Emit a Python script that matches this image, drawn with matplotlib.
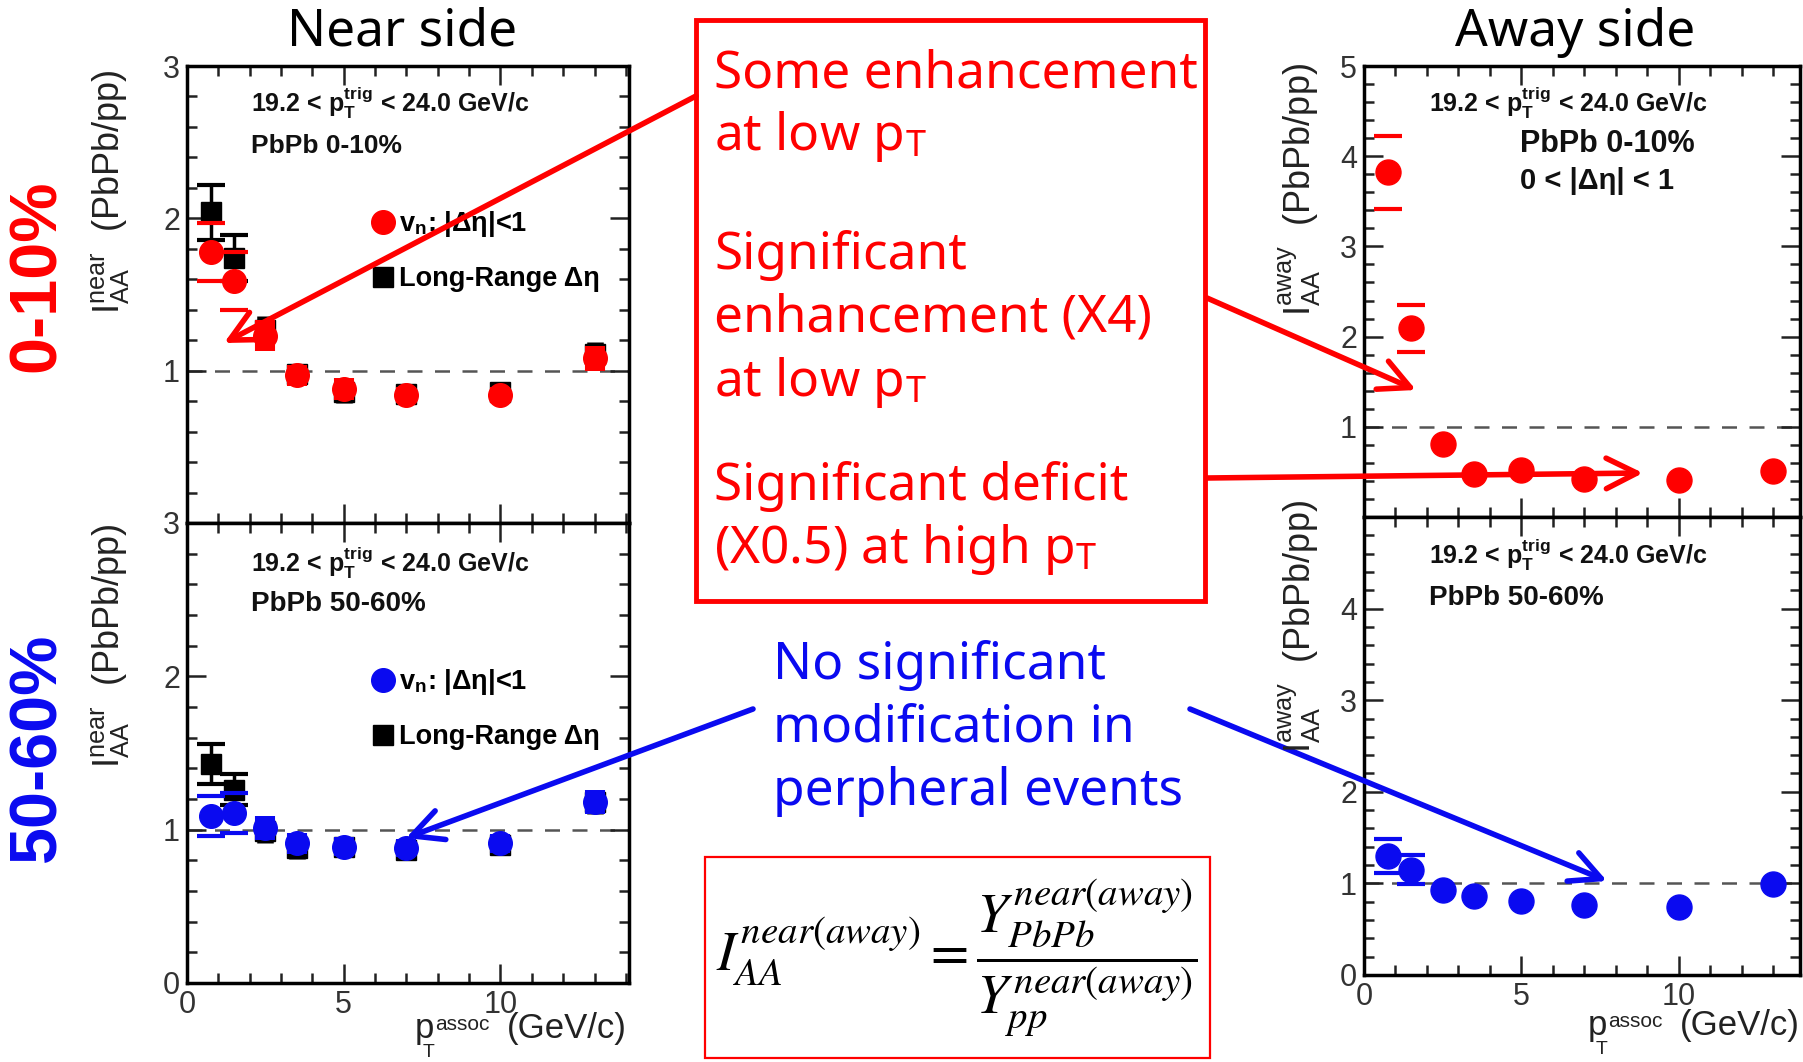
import matplotlib
matplotlib.use("Agg")
import matplotlib.pyplot as plt
from matplotlib.patches import Rectangle, FancyArrowPatch
from matplotlib.lines import Line2D
from matplotlib.ticker import MultipleLocator

plt.rcParams['font.family'] = ['Liberation Sans', 'DejaVu Sans']
plt.rcParams['mathtext.fontset'] = 'stix'

W, H = 1803, 1062

# associated pT bin centres (GeV/c)
pt = [0.75, 1.5, 2.5, 3.5, 5.0, 7.0, 10.0, 13.0]

# near side, PbPb 0-10%
near_c_vn = [1.78, 1.59, 1.23, 0.97, 0.88, 0.84, 0.84, 1.08]
near_c_vn_err = [0.19, 0.19, 0.10, 0.07, 0.07, 0.05, 0.05, 0.08]
near_c_lr = [2.04, 1.74, 1.27, 0.98, 0.86, 0.85, 0.86, 1.11]
near_c_lr_err = [0.18, 0.15, 0.09, 0.06, 0.07, 0.05, 0.05, 0.08]

# near side, PbPb 50-60%
near_p_vn = [1.09, 1.11, 1.01, 0.91, 0.89, 0.88, 0.91, 1.18]
near_p_vn_err = [0.13, 0.13, 0.08, 0.07, 0.06, 0.06, 0.06, 0.08]
near_p_lr = [1.43, 1.26, 0.99, 0.88, 0.89, 0.87, 0.90, 1.18]
near_p_lr_err = [0.13, 0.10, 0.08, 0.07, 0.06, 0.06, 0.06, 0.08]

# away side
away_c = [3.82, 2.09, 0.81, 0.48, 0.52, 0.42, 0.41, 0.51]
away_c_err = [0.40, 0.26, 0.0, 0.0, 0.0, 0.0, 0.0, 0.0]
away_p = [1.30, 1.15, 0.93, 0.86, 0.81, 0.76, 0.74, 0.99]
away_p_err = [0.19, 0.16, 0.0, 0.0, 0.0, 0.0, 0.0, 0.0]

RED = '#ff0000'
BLUE = '#0a0af0'


def box(l, t, r, b):
    # pixel box (from top-left) -> figure fraction rect
    return [l / W, 1 - b / H, (r - l) / W, (b - t) / H]


def fp(x, y):
    return (x / W, 1 - y / H)


def frame(ax, ymax, ylabels, xmax, show_x):
    ax.set_xlim(0, xmax)
    ax.set_ylim(0, ymax)
    ax.set_yticks(range(ymax + 1), ylabels)
    ax.xaxis.set_major_locator(MultipleLocator(5))
    ax.xaxis.set_minor_locator(MultipleLocator(1))
    ax.yaxis.set_minor_locator(MultipleLocator(0.2))
    ax.tick_params(which='both', direction='in', top=True, right=True,
                   width=1.8, color='#222')
    ax.tick_params(which='major', length=14, labelsize=22, labelcolor='#333',
                   pad=5, labelbottom=show_x)
    ax.tick_params(which='minor', length=7)
    for s in ax.spines.values():
        s.set_linewidth(2.5)
    ax.axhline(1, color='#555', lw=1.8, ls=(0, (6, 5)), zorder=1)


def points(ax, y, err, color, marker, ms, line, z):
    # two lowest bins: bracket-style errors, the rest: filled boxes
    ax.errorbar(pt[:2], y[:2], yerr=err[:2], fmt='none', ecolor=color,
                elinewidth=2.5 if line else 0, capsize=10, capthick=3, zorder=z)
    ax.errorbar(pt[2:], y[2:], yerr=err[2:], fmt='none', ecolor=color,
                elinewidth=ms * 0.85, capsize=0, zorder=z)
    ax.plot(pt, y, ls='none', marker=marker, ms=ms, color=color, zorder=z)


def pt_title(right, base):
    # "p_T^assoc (GeV/c)" built from pieces so the scripts sit low like ROOT
    kw = dict(color='#222', va='baseline')
    fig.text(*fp(right, base), '(GeV/c)', fontsize=25, ha='right', **kw)
    fig.text(*fp(right - 212, base), 'p', fontsize=25, **kw)
    fig.text(*fp(right - 192, base - 8), 'assoc', fontsize=15, **kw)
    fig.text(*fp(right - 204, base + 19), 'T', fontsize=14, **kw)


fig = plt.figure(figsize=(W / 100, H / 100), dpi=100)

ax1 = fig.add_axes(box(187, 66, 629, 523))
ax2 = fig.add_axes(box(187, 523, 629, 983))
ax3 = fig.add_axes(box(1364, 66, 1800, 517))
ax4 = fig.add_axes(box(1364, 517, 1800, 975))

frame(ax1, 3, ['', '1', '2', '3'], 14.1, False)
frame(ax2, 3, ['0', '1', '2', '3'], 14.1, True)
frame(ax3, 5, ['', '1', '2', '3', '4', '5'], 13.85, False)
frame(ax4, 5, ['0', '1', '2', '3', '4', ''], 13.85, True)

points(ax1, near_c_lr, near_c_lr_err, 'black', 's', 14, True, 3)
points(ax1, near_c_vn, near_c_vn_err, RED, 'o', 17, False, 4)
points(ax2, near_p_lr, near_p_lr_err, 'black', 's', 14, True, 3)
points(ax2, near_p_vn, near_p_vn_err, BLUE, 'o', 17, False, 4)
points(ax3, away_c, away_c_err, RED, 'o', 18, False, 4)
points(ax4, away_p, away_p_err, BLUE, 'o', 18, False, 4)

trig = r'19.2 < p$_\mathregular{T}^\mathregular{trig}$ < 24.0 GeV/c'
tkw = dict(fontweight='bold', color='#111', va='center')
fig.text(*fp(251, 103), trig, fontsize=18, **tkw)
fig.text(*fp(251, 146), 'PbPb 0-10%', fontsize=19, **tkw)
fig.text(*fp(251, 563), trig, fontsize=18, **tkw)
fig.text(*fp(251, 604), 'PbPb 50-60%', fontsize=20, **tkw)
fig.text(*fp(1429, 103), trig, fontsize=18, **tkw)
fig.text(*fp(1520, 144), 'PbPb 0-10%', fontsize=22, **tkw)
fig.text(*fp(1520, 181), '0 < |Δη| < 1', fontsize=21, **tkw)
fig.text(*fp(1429, 555), trig, fontsize=18, **tkw)
fig.text(*fp(1429, 598), 'PbPb 50-60%', fontsize=20, **tkw)

# legends on the near-side panels
for ax, col in [(ax1, RED), (ax2, BLUE)]:
    handles = [Line2D([], [], ls='none', marker='o', ms=17, color=col),
               Line2D([], [], ls='none', marker='s', ms=14, color='black')]
    ax.legend(handles, [r'v$_\mathregular{n}$: |Δη|<1', 'Long-Range Δη'],
              loc='upper left', bbox_to_anchor=(0.40, 0.71), frameon=False,
              prop={'size': 19.5, 'weight': 'bold'}, handlelength=0.6,
              handletextpad=0.3, labelspacing=1.0, borderaxespad=0)

# axis titles
ykw = dict(rotation=90, ha='center', va='center', fontsize=26, color='#222')
fig.text(*fp(110, 192), r'$\mathregular{I^{near}_{AA}}$  (PbPb/pp)', **ykw)
fig.text(*fp(110, 646), r'$\mathregular{I^{near}_{AA}}$  (PbPb/pp)', **ykw)
fig.text(*fp(1300, 190), r'$\mathregular{I^{away}_{AA}}$  (PbPb/pp)', **ykw)
fig.text(*fp(1300, 627), r'$\mathregular{I^{away}_{AA}}$  (PbPb/pp)', **ykw)
pt_title(627, 1038)
pt_title(1800, 1035)

fig.text(*fp(402, 32), 'Near side', fontsize=37, family='Noto Sans',
         ha='center', va='center')
fig.text(*fp(1575, 32), 'Away side', fontsize=37, family='Noto Sans',
         ha='center', va='center')

# centrality labels
fig.text(*fp(38, 276), '0-10%', rotation=90, fontsize=48, fontweight='bold',
         color=RED, ha='center', va='center')
fig.text(*fp(38, 747), '50-60%', rotation=90, fontsize=48, fontweight='bold',
         color=BLUE, ha='center', va='center')

# annotation boxes
fig.add_artist(Rectangle(fp(696, 601), 509 / W, 581 / H, fill=False,
                         ec=RED, lw=3.5, transform=fig.transFigure))
fig.add_artist(Rectangle(fp(705, 1058), 505 / W, 201 / H, fill=False,
                         ec=RED, lw=1.6, transform=fig.transFigure))

red_lines = ['Some enhancement', r'at low p$_\mathregular{T}$', 'Significant',
             'enhancement (X4)', r'at low p$_\mathregular{T}$',
             'Significant deficit', r'(X0.5) at high p$_\mathregular{T}$']
red_base = [87, 150, 269, 332, 396, 500, 563]
for s, y in zip(red_lines, red_base):
    fig.text(*fp(714, y), s, fontsize=37, family='Noto Sans', color=RED,
             va='baseline')

blue_lines = ['No significant', 'modification in', 'perpheral events']
blue_base = [679, 742, 805]
for s, y in zip(blue_lines, blue_base):
    fig.text(*fp(773, y), s, fontsize=37, family='Noto Sans', color=BLUE,
             va='baseline')

fig.text(*fp(957, 957),
         r'$I^{near(away)}_{AA} = \dfrac{Y^{near(away)}_{PbPb}}{Y^{near(away)}_{pp}}$',
         fontsize=40, ha='center', va='center')

# arrows
arrows = [((696, 96), (224, 343), RED), ((1207, 298), (1416, 390), RED),
          ((1207, 478), (1643, 473), RED), ((753, 709), (406, 838), BLUE),
          ((1190, 709), (1607, 881), BLUE)]
for a, b, c in arrows:
    fig.add_artist(FancyArrowPatch(fp(*a), fp(*b), transform=fig.transFigure,
                                   arrowstyle='->,head_length=1.0,head_width=0.5',
                                   mutation_scale=22, lw=4, color=c,
                                   shrinkA=0, shrinkB=0))

fig.savefig('out.png', dpi=100)
